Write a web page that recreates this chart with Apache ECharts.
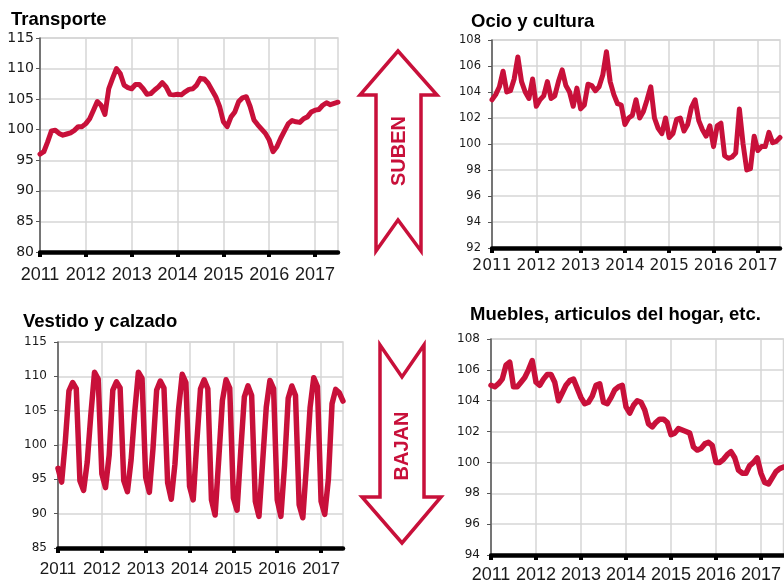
<!DOCTYPE html>
<html>
<head>
<meta charset="utf-8">
<script src="https://cdn.jsdelivr.net/npm/echarts@6/dist/echarts.min.js"></script>
<style>
  html, body { margin: 0; padding: 0; background: #fff; }
  #chart { width: 784px; height: 585px; }
</style>
</head>
<body>
<div id="chart"></div>
<script>
// tick labels (one per year) and monthly categories Jan 2011 - Jul 2017
const years = ['2011', '2012', '2013', '2014', '2015', '2016', '2017']
const months = []
years.forEach(y => {
  for (let m = 1; m <= 12; m++) months.push(y + '-' + (m < 10 ? '0' + m : m))
})
months.length = 79

const transporte = [
  96.0, 96.4, 98.0, 99.8, 99.9, 99.4, 99.1, 99.3, 99.5, 99.9, 100.5, 100.5,
  101.0, 101.8, 103.2, 104.6, 104.0, 102.5, 106.7, 108.4, 110.0, 109.2, 107.3, 106.9,
  106.7, 107.4, 107.4, 106.7, 105.8, 105.9, 106.5, 107.0, 107.7, 107.0, 105.8, 105.7,
  105.8, 105.7, 106.2, 106.6, 106.7, 107.3, 108.4, 108.3, 107.6, 106.5, 105.4, 103.8,
  101.3, 100.5, 102.1, 102.9, 104.6, 105.2, 105.4, 103.8, 101.6, 100.8, 100.1, 99.4,
  98.3, 96.4, 97.2, 98.6, 99.8, 101.0, 101.5, 101.3, 101.2, 101.8, 102.1, 102.9,
  103.2, 103.3, 104.0, 104.4, 104.1, 104.3, 104.5
]

const ocio = [
  103.4, 103.8, 104.4, 105.6, 104.0, 104.1, 105.0, 106.7, 104.8, 104.0, 103.5, 105.0,
  102.9, 103.4, 103.7, 104.8, 103.5, 103.7, 104.8, 105.7, 104.5, 104.0, 102.9, 104.3,
  102.7, 103.0, 104.6, 104.5, 104.1, 104.4, 105.3, 107.1, 104.8, 103.8, 103.1, 103.0,
  101.5, 102.0, 102.2, 103.4, 102.0, 102.5, 103.4, 104.4, 102.0, 101.2, 100.8, 102.0,
  100.5, 100.8, 101.9, 102.0, 101.0, 101.5, 102.8, 103.4, 101.8, 101.1, 100.6, 101.4,
  99.8, 101.4, 101.6, 99.1, 98.9, 99.0, 99.3, 102.7, 100.0, 98.0, 98.1, 100.6,
  99.5, 99.8, 99.8, 100.9, 100.1, 100.2, 100.5
]

const vestido = [
  96.6, 94.6, 100.5, 107.9, 109.1, 108.2, 94.8, 93.4, 97.5, 104.5, 110.6, 109.6,
  95.8, 93.8, 98.5, 108.0, 109.2, 108.3, 94.8, 93.2, 97.8, 104.8, 110.6, 109.7,
  95.3, 93.1, 99.5, 108.0, 109.3, 108.3, 94.5, 92.1, 97.2, 105.2, 110.3, 109.1,
  94.0, 92.0, 100.5, 108.2, 109.5, 108.2, 92.0, 89.8, 98.0, 106.5, 109.5, 108.3,
  92.3, 90.5, 99.0, 107.0, 108.6, 107.2, 91.8, 89.6, 97.5, 105.5, 109.4, 108.2,
  92.0, 89.6, 97.0, 106.8, 108.6, 107.2, 91.3, 89.4, 97.0, 105.5, 109.8, 108.5,
  91.8, 89.9, 95.0, 106.0, 108.1, 107.6, 106.4
]

const muebles = [
  105.0, 104.9, 105.1, 105.4, 106.3, 106.5, 104.9, 104.9, 105.2, 105.5, 106.0, 106.6,
  105.2, 105.0, 105.4, 105.7, 105.7, 105.2, 104.0, 104.5, 105.0, 105.3, 105.4, 104.8,
  104.2, 103.8, 103.9, 104.3, 105.0, 105.1, 103.9, 103.8, 104.2, 104.7, 104.9, 105.0,
  103.6, 103.2, 103.7, 104.0, 103.9, 103.4, 102.5, 102.3, 102.6, 102.8, 102.8, 102.6,
  101.8, 101.9, 102.2, 102.1, 102.0, 101.9, 101.0, 100.8, 100.9, 101.2, 101.3, 101.1,
  100.0, 100.0, 100.2, 100.5, 100.7, 100.3, 99.5, 99.3, 99.3, 99.8, 100.0, 100.3,
  99.3, 98.7, 98.6, 99.0, 99.4, 99.6, 99.7
]

const RED = '#c8103a'
const GRID_GREY = '#d6d6d6'
const isYear = (i) => i % 12 === 0

const panels = [
  { title: 'Transporte', tl: 11, tt: 10, data: transporte, lw: 5,
    grid: { left: 40, top: 38, right: 446, bottom: 333 },
    min: 80, max: 115, step: 5,
    yFont: 14, yMargin: 6, xFont: 18, xFamily: 'Liberation Sans', xMargin: 14 },
  { title: 'Ocio y cultura', tl: 471, tt: 12, data: ocio, lw: 5,
    grid: { left: 492, top: 40, right: 4, bottom: 337 },
    min: 92, max: 108, step: 2,
    yFont: 11.5, yMargin: 11, xFont: 15.5, xFamily: 'DejaVu Sans', xMargin: 10 },
  { title: 'Vestido y calzado', tl: 23, tt: 312, data: vestido, lw: 5.5,
    grid: { left: 58, top: 342, right: 441, bottom: 37 },
    min: 85, max: 115, step: 5,
    yFont: 12, yMargin: 11, xFont: 17, xFamily: 'Liberation Sans', xMargin: 13 },
  { title: 'Muebles, articulos del hogar, etc.', tl: 470, tt: 305, data: muebles, lw: 5.5,
    grid: { left: 491, top: 339, right: -4, bottom: 30 },
    min: 94, max: 108, step: 2,
    yFont: 12, yMargin: 11, xFont: 18, xFamily: 'Liberation Sans', xMargin: 11 }
]

const chart = echarts.init(document.getElementById('chart'), null, { renderer: 'canvas' })

chart.setOption({
  animation: false,
  backgroundColor: '#fff',
  title: panels.map(p => ({
    text: p.title,
    left: p.tl,
    top: p.tt,
    padding: 0,
    textStyle: { fontSize: 18.5, fontWeight: 'bold', color: '#000', fontFamily: 'Liberation Sans' }
  })),
  grid: panels.map(p => Object.assign({
    show: true, borderColor: GRID_GREY, borderWidth: 1.5, backgroundColor: 'transparent'
  }, p.grid)),
  xAxis: panels.map((p, k) => ({
    type: 'category',
    gridIndex: k,
    data: months,
    boundaryGap: false,
    axisLine: { lineStyle: { color: '#000', width: 4.5 } },
    axisTick: { interval: isYear, length: 5, lineStyle: { color: '#000', width: 4 } },
    axisLabel: {
      interval: isYear,
      formatter: v => v.slice(0, 4),
      fontSize: p.xFont,
      fontFamily: p.xFamily,
      color: '#1a1a1a',
      margin: p.xMargin
    },
    splitLine: { show: true, interval: isYear, lineStyle: { color: GRID_GREY, width: 1.5 } }
  })),
  yAxis: panels.map((p, k) => ({
    type: 'value',
    gridIndex: k,
    min: p.min,
    max: p.max,
    interval: p.step,
    axisLine: { show: true, lineStyle: { color: '#555', width: 1.5 } },
    axisTick: { show: true, length: 4, lineStyle: { color: '#555' } },
    axisLabel: { fontSize: p.yFont, fontFamily: 'DejaVu Sans', color: '#1a1a1a', margin: p.yMargin },
    splitLine: { lineStyle: { color: GRID_GREY, width: 1.5 } }
  })),
  series: panels.map((p, k) => ({
    type: 'line',
    name: p.title,
    xAxisIndex: k,
    yAxisIndex: k,
    data: p.data,
    showSymbol: false,
    lineStyle: { color: RED, width: p.lw, join: 'round', cap: 'round' },
    itemStyle: { color: RED }
  })),
  graphic: [
    {
      type: 'polygon',
      shape: { points: [[398, 51], [437, 95], [421, 95], [421, 251], [398, 220], [376, 251], [376, 95], [360, 95]] },
      style: { fill: '#fff', stroke: RED, lineWidth: 3.5 }
    },
    {
      type: 'text', x: 399, y: 151, rotation: Math.PI / 2,
      style: { text: 'SUBEN', fill: RED, fontSize: 20, fontWeight: 'bold', fontFamily: 'Liberation Sans', align: 'center', verticalAlign: 'middle' }
    },
    {
      type: 'polygon',
      shape: { points: [[380, 345], [402, 377], [424, 345], [424, 497], [441, 497], [402, 543], [362, 497], [380, 497]] },
      style: { fill: '#fff', stroke: RED, lineWidth: 3.5 }
    },
    {
      type: 'text', x: 402, y: 446, rotation: Math.PI / 2,
      style: { text: 'BAJAN', fill: RED, fontSize: 20, fontWeight: 'bold', fontFamily: 'Liberation Sans', align: 'center', verticalAlign: 'middle' }
    }
  ]
})
</script>
</body>
</html>
